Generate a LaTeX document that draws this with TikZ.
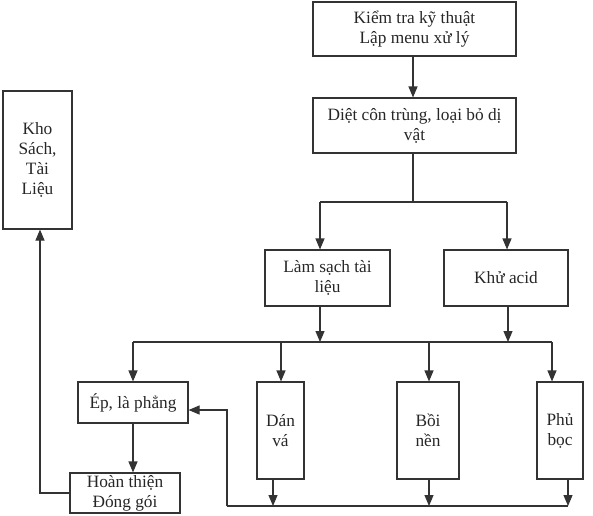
\documentclass[tikz,border=0pt]{standalone}
\usepackage{fontspec}
\setmainfont{Liberation Serif}
\usetikzlibrary{arrows.meta}
\begin{document}
\begin{tikzpicture}[x=1pt,y=-1pt,
  box/.style={draw=black!80, line width=1.1pt, rectangle, align=center, inner sep=0pt,
    text=black!85, font=\fontsize{17.3}{20}\selectfont},
  arr/.style={draw=black!80, line width=1.1pt, -{Triangle[width=9pt,length=11pt]}},
  ln/.style={draw=black!80, line width=1.1pt}]
\useasboundingbox (0,0) rectangle (593,515);
% boxes
\node[box, minimum width=203, minimum height=54] (kt) at (414.5,29) {Kiểm tra kỹ thuật\\Lập menu xử lý};
\node[box, minimum width=203, minimum height=55] (dct) at (414.5,125.5) {Diệt côn trùng, loại bỏ dị\\vật};
\node[box, minimum width=125, minimum height=56] (ls) at (327.5,278) {Làm sạch tài\\liệu};
\node[box, minimum width=124, minimum height=56] (ka) at (506,278) {Khử acid};
\node[box, minimum width=110, minimum height=41] (ep) at (133,402.5) {Ép, là phẳng};
\node[box, minimum width=110, minimum height=40] (ht) at (125,493) {Hoàn thiện\\Đóng gói};
\node[box, minimum width=47, minimum height=97] (dv) at (280.5,430.5) {Dán\\vá};
\node[box, minimum width=62, minimum height=97] (bn) at (428,430.5) {Bồi\\nền};
\node[box, minimum width=46, minimum height=97] (pb) at (560,430.5) {Phủ\\bọc};
\node[box, minimum width=69, minimum height=138] (kho) at (37.5,160) {Kho\\Sách,\\Tài\\Liệu};
% coordinates
\coordinate (s1) at (413,202);
\coordinate (s1l) at (320,202);
\coordinate (s1r) at (507,202);
\coordinate (b1) at (320,342);
\coordinate (b2) at (508,342);
\coordinate (b1l) at (133,342);
\coordinate (b1r) at (552,342);
\coordinate (bd) at (281,342);
\coordinate (bb) at (429,342);
\coordinate (q1) at (273,506);
\coordinate (q2) at (429,506);
\coordinate (q3) at (568,506);
\coordinate (ql) at (227,506);
\coordinate (qe) at (227,410);
\coordinate (k1) at (40,493);
% connectors
\draw[arr] (413,0 |- kt.south) -- (413,0 |- dct.north);
\draw[ln] (413,0 |- dct.south) -- (s1);
\draw[ln] (s1l) -- (s1r);
\draw[arr] (s1l) -- (s1l |- ls.north);
\draw[arr] (s1r) -- (s1r |- ka.north);
\draw[arr] (b1 |- ls.south) -- (b1);
\draw[arr] (b2 |- ka.south) -- (b2);
\draw[ln] (b1l) -- (b1r);
\draw[arr] (b1l) -- (b1l |- ep.north);
\draw[arr] (bd) -- (bd |- dv.north);
\draw[arr] (bb) -- (bb |- bn.north);
\draw[arr] (b1r) -- (b1r |- pb.north);
\draw[arr] (q1 |- dv.south) -- (q1);
\draw[arr] (q2 |- bn.south) -- (q2);
\draw[arr] (q3 |- pb.south) -- (q3);
\draw[ln] (ql) -- (q3);
\draw[arr] (ql) -- (qe) -- (qe -| ep.east);
\draw[arr] (b1l |- ep.south) -- (b1l |- ht.north);
\draw[arr] (ht.west |- k1) -- (k1) -- (k1 |- kho.south);
\end{tikzpicture}
\end{document}
